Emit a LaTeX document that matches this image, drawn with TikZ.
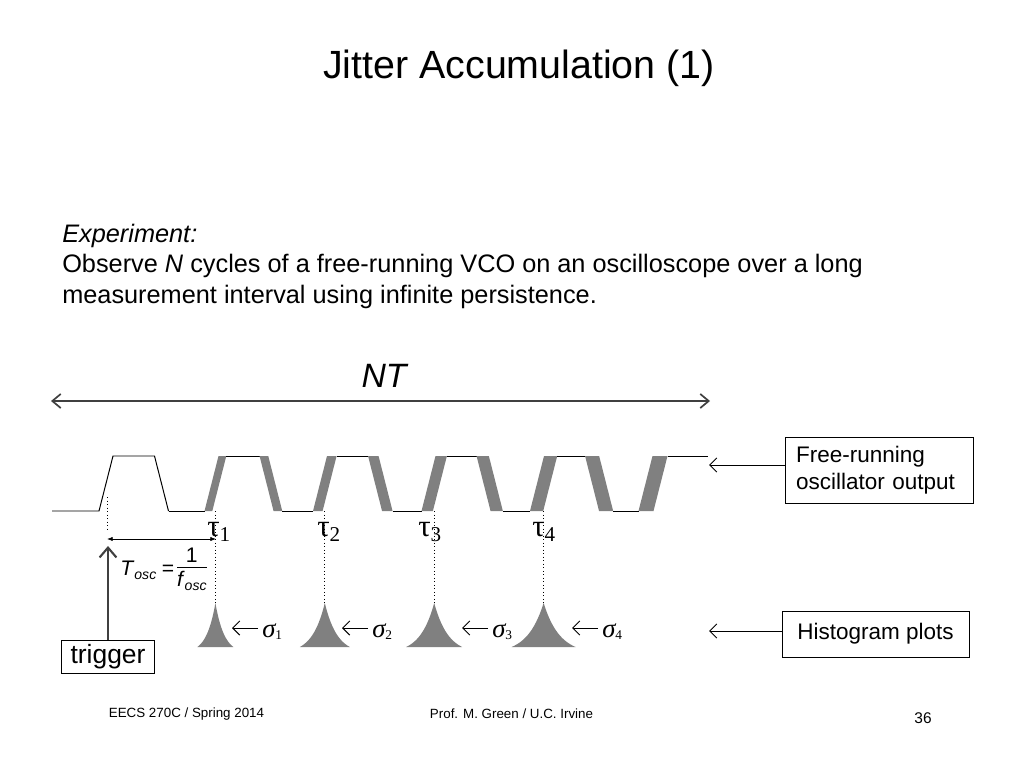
\documentclass[tikz,border=0pt]{standalone}
\usepackage{fontspec}
\setmainfont{Liberation Sans}
\newfontfamily\greekfont{Liberation Serif}
\usetikzlibrary{arrows.meta,positioning}

\tikzset{
  wave/.style={line width=0.7pt},
  band/.style={fill=black!50},
  hist/.style={fill=black!50},
  guide/.style={dotted, line width=0.5pt},
  labelbox/.style={draw, line width=0.6pt, font=\fontsize{16}{19.2}\selectfont},
  pointer/.style={->, >={Straight Barb[length=5pt,width=10pt]}, line width=0.7pt},
  span/.style={<->, >={Straight Barb[length=6pt,width=10pt]}, line width=1.2pt, draw=black!75},
  trigarrow/.style={->, >={Straight Barb[length=7pt,width=12pt]}, line width=1.5pt, draw=black!75},
  period/.style={<->, >={Latex[length=4pt,width=3pt]}, line width=0.5pt},
  bodytext/.style={font=\fontsize{18}{22}\selectfont, inner sep=0pt},
  taulab/.style={font=\greekfont\fontsize{22}{22}\selectfont, inner sep=0pt},
  siglab/.style={font=\greekfont\itshape\fontsize{19}{19}\selectfont, inner sep=0pt},
  footer/.style={font=\fontsize{9.5}{11}\selectfont},
}

\begin{document}
\begin{tikzpicture}[x=0.025cm, y=-0.025cm]
\fill[white] (0,0) rectangle (1024,768);
\useasboundingbox (0,0) rectangle (1024,768);

% title and text
\node[font=\fontsize{28}{32}\selectfont] (title) at (519,68) {Jitter Accumulation (1)};
\node[bodytext, anchor=base west] (expt) at (62,242) {\textit{Experiment:}};
\node[bodytext, below=22pt of expt.base west, anchor=base west] (obs1) {Observe \textit{N} cycles of a free-running VCO on an oscilloscope over a long};
\node[bodytext, below=22pt of obs1.base west, anchor=base west] (obs2) {measurement interval using infinite persistence.};

% NT span
\coordinate (ntl) at (51,401);
\coordinate (ntr) at (710,401);
\draw[span] (ntl) -- (ntr);
\node[font=\itshape\fontsize{24}{24}\selectfont] (ntlab) at (384,376) {NT};

% waveform
\def\ylow{511}\def\yhigh{456}\def\edgew{7}
\draw[wave] (52,\ylow) -- (99,\ylow) -- (113,\yhigh) -- (154.5,\yhigh) -- (168.5,\ylow);
\foreach \k in {1,...,5}{
  \pgfmathsetmacro{\rc}{106+109.4*\k}
  \pgfmathsetmacro{\rs}{3+0.9*\k}
  \pgfmathsetmacro{\fc}{\rc-53.9}
  \pgfmathsetmacro{\fs}{ifthenelse(\k==1,0,3+0.9*(\k-0.5))}
  \draw[wave] (\fc+\edgew+\fs,\ylow) -- (\rc-\edgew-\rs,\ylow);
  \fill[band] (\rc-\edgew-\rs,\ylow) -- (\rc-\edgew+\rs,\ylow) -- (\rc+\edgew+\rs,\yhigh) -- (\rc+\edgew-\rs,\yhigh) -- cycle;
}
\foreach \k in {1,...,4}{
  \pgfmathsetmacro{\rc}{106+109.4*\k}
  \pgfmathsetmacro{\rs}{3+0.9*\k}
  \pgfmathsetmacro{\fc}{\rc+55.5}
  \pgfmathsetmacro{\fs}{3+0.9*(\k+0.5)}
  \draw[wave] (\rc+\edgew+\rs,\yhigh) -- (\fc-\edgew-\fs,\yhigh);
  \fill[band] (\fc-\edgew-\fs,\yhigh) -- (\fc-\edgew+\fs,\yhigh) -- (\fc+\edgew+\fs,\ylow) -- (\fc+\edgew-\fs,\ylow) -- cycle;
}
\draw[wave] (653+\edgew+7.5,\yhigh) -- (708,\yhigh);

% histograms and guides
\foreach \c/\W [count=\i] in {215.4/18, 324.8/25, 434.2/28, 543.6/32}{
  \coordinate (edge\i) at (\c,511);
  \coordinate (peak\i) at (\c,603);
  \draw[guide] (edge\i) -- (peak\i);
  \fill[hist] plot[domain=-\W:\W, samples=61] ({\c+\x}, {647-44*(exp(-abs(\x)/(0.5*\W))-exp(-2))/(1-exp(-2))}) -- cycle;
}

% tau labels
\foreach \tx [count=\i] in {207, 317, 418, 532}{
  \node[taulab, anchor=base west] (tau\i) at (\tx,536) {τ\raisebox{-4pt}{\fontsize{15}{15}\selectfont \i}};
}

% sigma labels
\foreach \a [count=\i] in {232, 342, 462, 572}{
  \coordinate (sh\i) at (\a,628);
  \node[siglab, anchor=base west] (sig\i) at (\a+30,637) {σ\raisebox{-2pt}{\fontsize{9.5}{9.5}\selectfont\upshape \i}};
  \draw[pointer, shorten <=2.8pt] (sig\i.west |- sh\i) -- (sh\i);
}

% trigger and period
\coordinate (r0) at (107,497);
\coordinate (t0) at (107,539);
\coordinate (t1) at (216,539);
\draw[guide] (r0) -- ([yshift=6pt]t0);
\draw[period] (t0) -- (t1);
\setlength{\arrayrulewidth}{0.6pt}
\node[font=\fontsize{15}{15}\selectfont, inner sep=0pt, anchor=west] (tosc) at (120,570)
  {\textit{T}\raisebox{-3pt}{\fontsize{10}{10}\selectfont\textit{osc}}\hspace{4pt}=\hspace{2pt}\begin{tabular}[c]{@{}c@{}}1\\[-1pt]\hline\rule{0pt}{13pt}\textit{f}\raisebox{-3pt}{\fontsize{10}{10}\selectfont\textit{osc}}\end{tabular}};
\node[draw, line width=0.6pt, font=\fontsize{18.8}{22}\selectfont, minimum width=66pt, minimum height=24pt, inner sep=2pt] (trigbox) at (108,657) {trigger};
\coordinate (trigtip) at (108,546);
\draw[trigarrow] (trigbox.north) -- (trigtip);

% right boxes
\node[labelbox, align=left, text width=118pt, inner xsep=7.8pt, minimum height=47pt] (frbox) at (879,470) {Free-running\\oscillator output};
\node[labelbox, minimum width=133pt, minimum height=32.7pt] (histbox) at (875.5,634) {Histogram plots};
\coordinate (frtip) at (709,465);
\coordinate (histtip) at (709,631);
\draw[pointer] (frbox.west |- frtip) -- (frtip);
\draw[pointer] (histbox.west |- histtip) -- (histtip);

% footer
\node[footer] (course) at (186.5,714) {EECS 270C / Spring 2014};
\node[footer] (prof) at (511.5,714) {Prof. M. Green / U.C. Irvine};
\node[font=\fontsize{11}{13}\selectfont] (page) at (923,718) {36};
\end{tikzpicture}
\end{document}
